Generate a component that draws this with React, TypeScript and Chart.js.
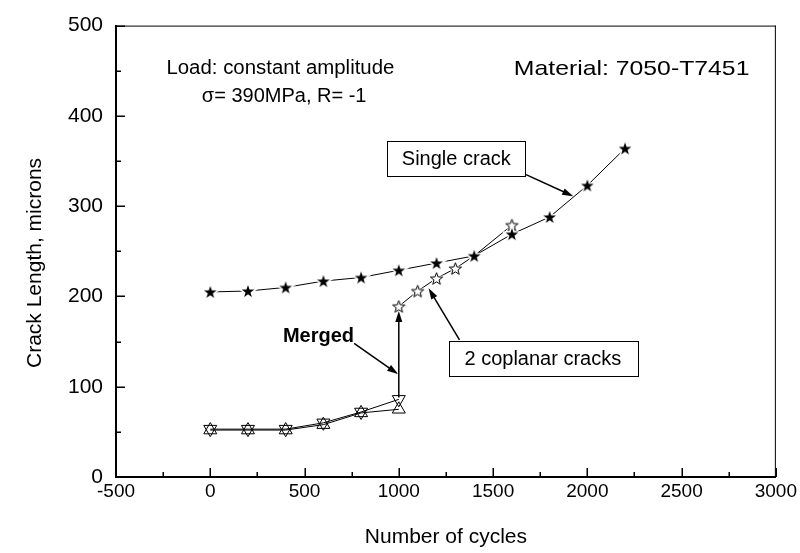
import React, { useEffect, useRef } from 'react';
import { Chart, registerables } from 'chart.js';

Chart.register(...registerables);

// ---- data ----
const singleCycles = [0, 200, 400, 600, 800, 1000, 1200, 1400, 1600, 1800, 2000, 2200];
const singleCrack = [205, 206, 210, 217, 221, 229, 237, 245, 269, 288, 323, 364];
const coplanarCycles = [1000, 1100, 1200, 1300, 1400, 1600];
const coplanarCracks = [189, 206, 220, 231, 245, 279];
const mergeCycles = [0, 200, 400, 600, 800, 1000];
const crackUp = [52, 52, 52, 58, 71, 75];
const crackDown = [53, 53, 53, 60, 72, 86];
const xTickValues = [-500, 0, 500, 1000, 1500, 2000, 2500, 3000];
const yTickValues = [0, 100, 200, 300, 400, 500];

// ---- annotations (data coordinates) ----
const notes = [
  { text: 'Load: constant amplitude', x: 372, y: 452, size: 20, stretch: 1.02, bold: false },
  { text: 'σ= 390MPa, R= -1', x: 392, y: 422, size: 20, stretch: 1.0, bold: false },
  { text: 'Material: 7050-T7451', x: 2235, y: 452, size: 21, stretch: 1.18, bold: false },
  { text: 'Merged', x: 574, y: 156, size: 20, stretch: 1.0, bold: true },
];
const boxes = [
  { text: 'Single crack', x0: 940, x1: 1670, y0: 372, y1: 333 },
  { text: '2 coplanar cracks', x0: 1264, x1: 2264, y0: 151, y1: 112 },
];
const arrows = [
  { x0: 1675, y0: 335, x1: 1925, y1: 311 },
  { x0: 1322, y0: 152, x1: 1158, y1: 209 },
  { x0: 763, y0: 148, x1: 996, y1: 114 },
  { x0: 1000, y0: 88, x1: 1000, y1: 184 },
];

const FONT = '"Liberation Sans", Arial, sans-serif';

function makeStar(outer: number, inner: number, fill: string, stroke: string | null) {
  const pad = 3;
  const size = Math.ceil(2 * (outer + pad));
  const c = document.createElement('canvas');
  c.width = size;
  c.height = size;
  const ctx = c.getContext('2d')!;
  const cx = size / 2;
  const cy = size / 2 + outer * 0.1;
  ctx.beginPath();
  for (let i = 0; i < 10; i++) {
    const r = i % 2 === 0 ? outer : inner;
    const a = -Math.PI / 2 + (i * Math.PI) / 5;
    const px = cx + r * Math.cos(a);
    const py = cy + r * Math.sin(a);
    if (i === 0) ctx.moveTo(px, py);
    else ctx.lineTo(px, py);
  }
  ctx.closePath();
  ctx.lineJoin = 'miter';
  ctx.strokeStyle = '#fff';
  ctx.lineWidth = 3;
  ctx.stroke();
  ctx.fillStyle = fill;
  ctx.fill();
  if (stroke) {
    ctx.strokeStyle = stroke;
    ctx.lineWidth = 1;
    ctx.stroke();
  }
  return c;
}

function drawArrow(ctx: CanvasRenderingContext2D, x0: number, y0: number, x1: number, y1: number) {
  const ang = Math.atan2(y1 - y0, x1 - x0);
  const len = 11;
  const w = 3.5;
  ctx.beginPath();
  ctx.moveTo(x0, y0);
  ctx.lineTo(x1 - Math.cos(ang) * len * 0.8, y1 - Math.sin(ang) * len * 0.8);
  ctx.stroke();
  ctx.beginPath();
  ctx.moveTo(x1, y1);
  ctx.lineTo(x1 - Math.cos(ang) * len - Math.sin(ang) * w, y1 - Math.sin(ang) * len + Math.cos(ang) * w);
  ctx.lineTo(x1 - Math.cos(ang) * len + Math.sin(ang) * w, y1 - Math.sin(ang) * len - Math.cos(ang) * w);
  ctx.closePath();
  ctx.fill();
}

const framePlugin = {
  id: 'frameAndTicks',
  afterDraw(chart: any) {
    const { ctx, chartArea } = chart;
    const xs = chart.scales.x;
    const ys = chart.scales.y;
    ctx.save();
    ctx.strokeStyle = '#000';
    ctx.fillStyle = '#000';
    // thin top & right frame
    ctx.lineWidth = 1;
    ctx.beginPath();
    ctx.moveTo(chartArea.left, chartArea.top + 0.5);
    ctx.lineTo(chartArea.right, chartArea.top + 0.5);
    ctx.moveTo(chartArea.right - 0.5, chartArea.top);
    ctx.lineTo(chartArea.right - 0.5, chartArea.bottom);
    ctx.stroke();
    // inward ticks (major + minor)
    ctx.lineWidth = 1.5;
    ctx.beginPath();
    for (let v = -500; v <= 3000; v += 250) {
      const px = Math.round(xs.getPixelForValue(v)) + 0.25;
      const major = v % 500 === 0;
      ctx.moveTo(px, chartArea.bottom);
      ctx.lineTo(px, chartArea.bottom - (major ? 9 : 5));
    }
    for (let v = 0; v <= 500; v += 50) {
      const py = Math.round(ys.getPixelForValue(v)) + 0.25;
      const major = v % 100 === 0;
      ctx.moveTo(chartArea.left, py);
      ctx.lineTo(chartArea.left + (major ? 9 : 5), py);
    }
    ctx.stroke();
    // annotation texts
    ctx.textAlign = 'center';
    ctx.textBaseline = 'middle';
    for (const n of notes) {
      ctx.save();
      ctx.font = `${n.bold ? 'bold ' : ''}${n.size}px ${FONT}`;
      ctx.translate(xs.getPixelForValue(n.x), ys.getPixelForValue(n.y));
      ctx.scale(n.stretch, 1);
      ctx.fillText(n.text, 0, 0);
      ctx.restore();
    }
    // boxes
    ctx.lineWidth = 1;
    for (const b of boxes) {
      const x0 = xs.getPixelForValue(b.x0);
      const x1 = xs.getPixelForValue(b.x1);
      const y0 = ys.getPixelForValue(b.y0);
      const y1 = ys.getPixelForValue(b.y1);
      ctx.fillStyle = '#fff';
      ctx.fillRect(x0, y0, x1 - x0, y1 - y0);
      ctx.strokeRect(Math.round(x0) + 0.5, Math.round(y0) + 0.5, Math.round(x1 - x0), Math.round(y1 - y0));
      ctx.fillStyle = '#000';
      ctx.font = `20px ${FONT}`;
      ctx.fillText(b.text, (x0 + x1) / 2, (y0 + y1) / 2 + 1);
    }
    // arrows
    ctx.lineWidth = 1.5;
    for (const a of arrows) {
      drawArrow(
        ctx,
        xs.getPixelForValue(a.x0),
        ys.getPixelForValue(a.y0),
        xs.getPixelForValue(a.x1),
        ys.getPixelForValue(a.y1)
      );
    }
    ctx.restore();
  },
};

export default function App() {
  const ref = useRef<HTMLCanvasElement | null>(null);
  useEffect(() => {
    if (!ref.current) return;
    const filledStar = makeStar(6.6, 2.6, '#000', null);
    const openStar = makeStar(6.4, 2.7, '#fff', '#000');
    const toXY = (xs: number[], ys: number[]) => xs.map((x, i) => ({ x, y: ys[i] }));
    const chart = new Chart(ref.current, {
      type: 'line',
      data: {
        datasets: [
          {
            label: 'Single crack',
            data: toXY(singleCycles, singleCrack),
            borderColor: '#000',
            borderWidth: 1,
            pointStyle: filledStar as any,
            pointRadius: 7,
            tension: 0,
          },
          {
            label: '2 coplanar cracks',
            data: toXY(coplanarCycles, coplanarCracks),
            borderColor: '#000',
            borderWidth: 1,
            pointStyle: openStar as any,
            pointRadius: 7,
            tension: 0,
          },
          {
            label: 'Crack A',
            data: toXY(mergeCycles, crackUp),
            borderColor: '#000',
            borderWidth: 1,
            pointStyle: 'triangle',
            pointRadius: 7.5,
            pointBorderWidth: 1,
            pointBackgroundColor: 'rgba(255,255,255,0)',
            pointBorderColor: '#000',
            tension: 0,
          },
          {
            label: 'Crack B',
            data: toXY(mergeCycles, crackDown),
            borderColor: '#000',
            borderWidth: 1,
            pointStyle: 'triangle',
            pointRotation: 180,
            pointRadius: 7.5,
            pointBorderWidth: 1,
            pointBackgroundColor: 'rgba(255,255,255,0)',
            pointBorderColor: '#000',
            tension: 0,
          },
        ],
      },
      options: {
        animation: false,
        responsive: false,
        events: [],
        layout: { padding: { top: 16, right: 23, left: 0, bottom: 0 } },
        plugins: { legend: { display: false }, tooltip: { enabled: false } },
        scales: {
          x: {
            type: 'linear',
            min: -500,
            max: 3000,
            afterFit: (s: any) => {
              s.height = 76;
            },
            afterBuildTicks: (s: any) => {
              s.ticks = xTickValues.map((v) => ({ value: v }));
            },
            ticks: {
              color: '#000',
              font: { size: 19, family: FONT },
              padding: 3,
              maxRotation: 0,
              callback: (v: any) => String(v),
            },
            grid: { display: false, drawTicks: false, tickLength: 0 },
            border: { display: true, color: '#000', width: 2 },
            title: {
              display: true,
              text: 'Number of cycles',
              color: '#000',
              font: { size: 21, family: FONT },
              padding: { top: 0, bottom: 3 },
            },
          },
          y: {
            type: 'linear',
            min: 0,
            max: 500,
            afterFit: (s: any) => {
              s.width = 116;
            },
            afterBuildTicks: (s: any) => {
              s.ticks = yTickValues.map((v) => ({ value: v }));
            },
            ticks: {
              color: '#000',
              font: { size: 21, family: FONT },
              padding: 13,
              callback: (v: any) => String(v),
            },
            grid: { display: false, drawTicks: false, tickLength: 0 },
            border: { display: true, color: '#000', width: 2 },
            title: {
              display: true,
              text: 'Crack Length, microns\u00a0\u00a0\u00a0\u00a0',
              color: '#000',
              font: { size: 21, family: FONT },
              padding: { top: 23, bottom: 0 },
            },
          },
        },
      },
      plugins: [framePlugin],
    });
    return () => chart.destroy();
  }, []);
  return (
    <div style={{ position: 'fixed', left: 0, top: 0, width: 800, height: 553, background: '#fff' }}>
      <canvas ref={ref} width={800} height={553} style={{ width: 800, height: 553 }} />
    </div>
  );
}
